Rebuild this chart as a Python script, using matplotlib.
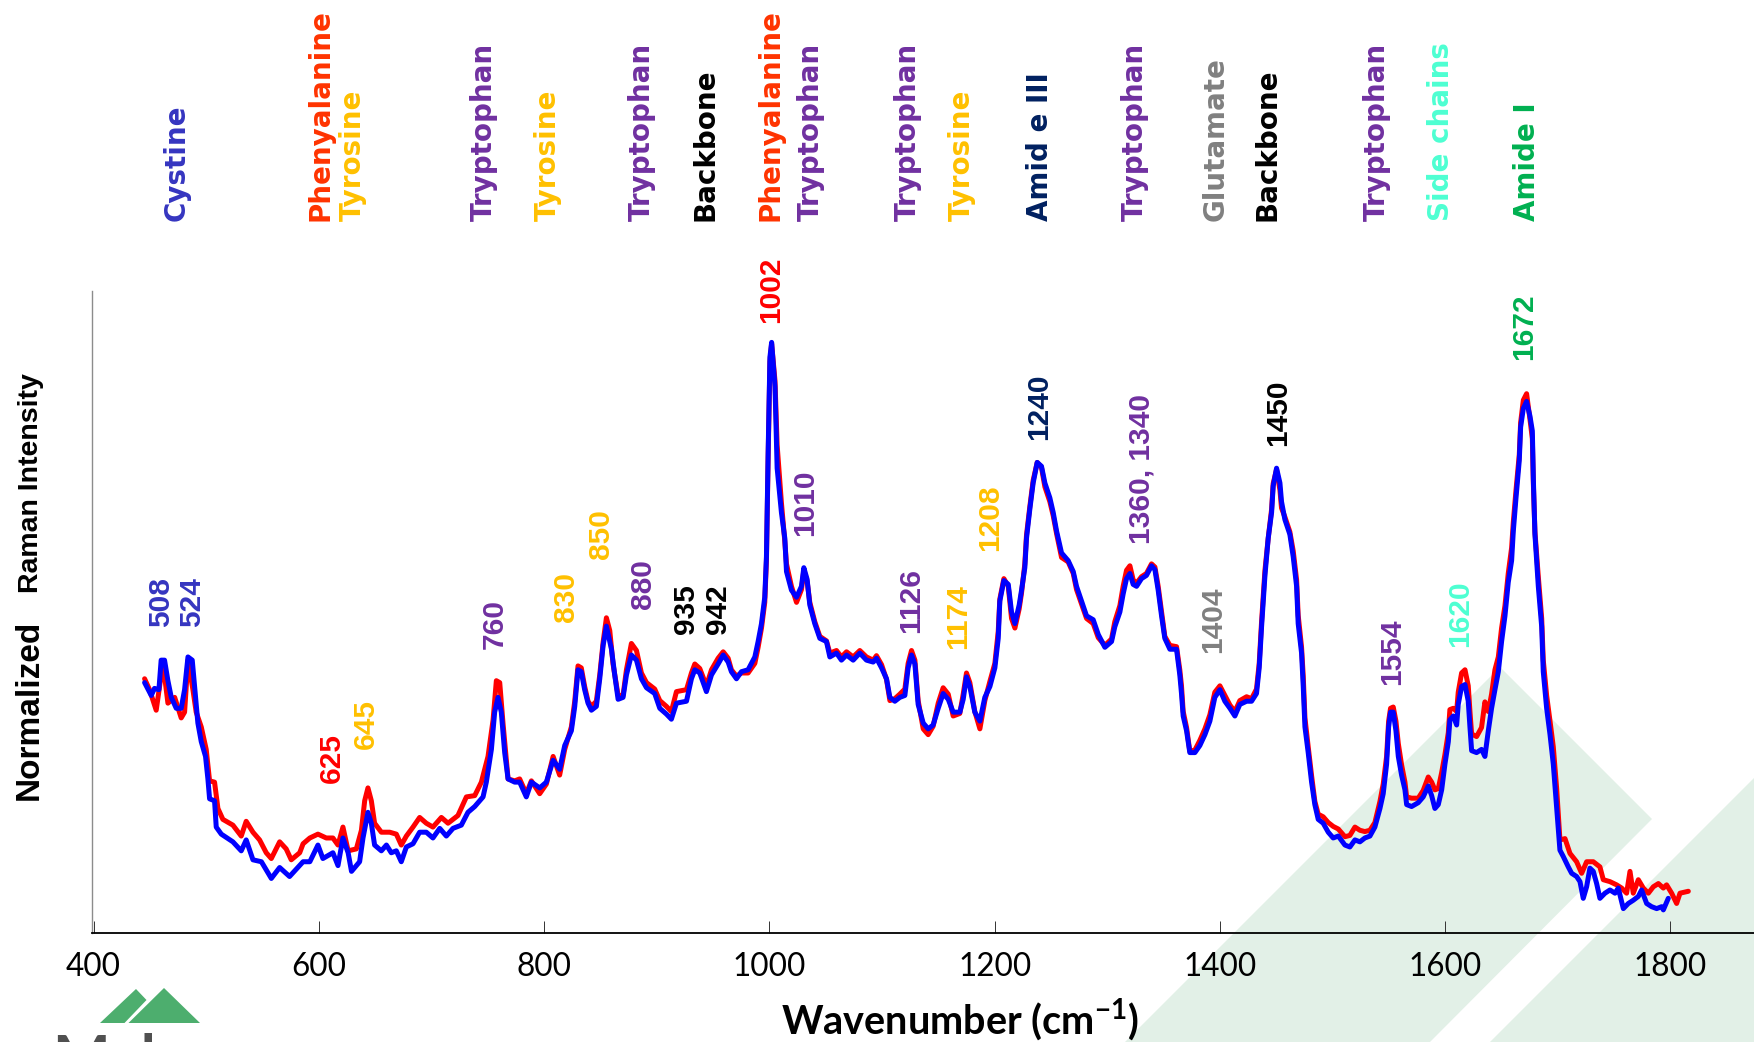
import matplotlib
matplotlib.use("Agg")
import matplotlib.pyplot as plt
from matplotlib.patches import Polygon

# ---------------- data ----------------
blue_wn = [445.3, 451.2, 454.1, 458.0, 460.0, 463.0, 466.0, 469.0, 473.4, 477.8,
           480.8, 483.8, 487.6, 489.7, 492.6, 495.6, 499.4, 501.5, 503.0, 507.4,
           508.9, 513.4, 523.7, 531.1, 535.5, 541.5, 549.0, 557.8, 565.2, 574.0,
           586.0, 592.0, 599.2, 603.6, 612.5, 617.0, 621.4, 626.0, 629.0, 636.2,
           639.2, 643.6, 646.6, 649.5, 655.5, 660.0, 664.3, 668.8, 673.2, 677.7,
           683.6, 689.5, 695.4, 701.3, 707.3, 713.2, 719.1, 726.5, 732.4, 738.4,
           745.8, 748.7, 753.2, 756.1, 759.1, 762.0, 765.0, 768.0, 773.9, 778.3,
           784.2, 788.7, 796.1, 802.0, 808.0, 813.8, 818.3, 824.2, 827.2, 830.1,
           833.0, 836.0, 839.0, 842.0, 846.4, 849.4, 852.4, 855.3, 859.8, 862.7,
           865.7, 870.1, 873.1, 877.5, 882.0, 886.4, 890.9, 898.2, 902.7, 908.6,
           913.0, 917.5, 926.4, 930.8, 933.8, 938.2, 944.1, 948.6, 954.5, 959.0,
           963.4, 966.3, 970.8, 975.2, 981.1, 987.1, 990.0, 993.0, 995.9, 997.4,
           998.9, 1000.5, 1002.0, 1005.0, 1006.9, 1010.7, 1013.7, 1015.2, 1019.6, 1024.1,
           1028.5, 1030.6, 1033.5, 1035.9, 1040.3, 1044.8, 1050.7, 1053.7, 1059.6, 1064.0,
           1068.5, 1074.4, 1080.3, 1086.2, 1092.2, 1095.1, 1099.6, 1104.0, 1107.0, 1111.4,
           1115.8, 1120.3, 1123.2, 1126.2, 1129.2, 1132.1, 1136.6, 1141.0, 1145.4, 1149.9,
           1154.3, 1158.8, 1163.2, 1169.1, 1172.1, 1175.0, 1178.0, 1182.4, 1186.9, 1191.3,
           1195.8, 1200.2, 1203.2, 1204.6, 1208.2, 1212.1, 1215.0, 1218.0, 1221.8, 1223.9,
           1226.8, 1228.3, 1231.3, 1234.2, 1237.8, 1241.6, 1244.6, 1249.0, 1252.0, 1255.0,
           1259.4, 1265.3, 1269.8, 1272.7, 1277.2, 1281.6, 1287.5, 1292.0, 1297.9, 1303.8,
           1306.7, 1311.2, 1314.1, 1317.1, 1320.1, 1323.0, 1326.0, 1330.4, 1334.8, 1339.3,
           1342.3, 1345.2, 1348.2, 1351.1, 1355.6, 1361.5, 1364.4, 1365.9, 1367.4, 1370.4,
           1373.3, 1377.8, 1382.2, 1386.7, 1391.1, 1395.5, 1400.0, 1404.4, 1408.9, 1413.3,
           1417.7, 1423.7, 1428.1, 1432.5, 1434.9, 1437.0, 1440.0, 1442.9, 1445.9, 1447.3,
           1450.3, 1453.3, 1454.7, 1457.7, 1462.1, 1465.1, 1468.1, 1469.5, 1472.5, 1474.0,
           1475.5, 1478.4, 1481.4, 1484.3, 1487.3, 1491.7, 1496.2, 1500.6, 1505.1, 1511.0,
           1515.4, 1519.9, 1524.3, 1528.7, 1533.2, 1537.6, 1542.1, 1545.0, 1548.0, 1549.8,
           1551.5, 1553.9, 1556.3, 1558.4, 1561.3, 1564.3, 1565.8, 1570.2, 1576.1, 1580.5,
           1585.0, 1588.0, 1590.9, 1593.9, 1596.9, 1599.8, 1602.8, 1604.2, 1607.2, 1610.2,
           1611.6, 1614.6, 1617.6, 1620.5, 1622.0, 1623.5, 1627.9, 1632.3, 1635.3, 1638.3,
           1641.2, 1644.2, 1647.2, 1650.1, 1653.1, 1656.0, 1659.0, 1660.5, 1662.9, 1665.8,
           1667.0, 1669.4, 1672.3, 1675.3, 1677.4, 1678.3, 1679.7, 1682.7, 1685.7, 1687.1,
           1690.1, 1693.1, 1696.0, 1699.0, 1701.9, 1704.9, 1709.3, 1712.3, 1716.7, 1719.7,
           1722.6, 1725.6, 1728.5, 1731.5, 1734.5, 1737.4, 1741.9, 1746.3, 1750.8, 1753.7,
           1758.2, 1762.6, 1767.0, 1771.5, 1774.4, 1778.9, 1783.3, 1787.8, 1792.2, 1793.7,
           1798.1]
blue_int = [0.390, 0.370, 0.381, 0.379, 0.425, 0.425, 0.393, 0.367, 0.350, 0.350,
            0.379, 0.430, 0.425, 0.384, 0.327, 0.298, 0.275, 0.240, 0.209, 0.206,
            0.165, 0.154, 0.142, 0.128, 0.145, 0.114, 0.111, 0.085, 0.102, 0.088,
            0.111, 0.111, 0.137, 0.116, 0.125, 0.105, 0.148, 0.125, 0.096, 0.111,
            0.148, 0.188, 0.171, 0.137, 0.128, 0.137, 0.125, 0.128, 0.111, 0.134,
            0.139, 0.157, 0.157, 0.148, 0.163, 0.151, 0.163, 0.168, 0.188, 0.197,
            0.212, 0.235, 0.286, 0.344, 0.367, 0.344, 0.281, 0.240, 0.235, 0.235,
            0.212, 0.235, 0.226, 0.235, 0.269, 0.255, 0.292, 0.315, 0.353, 0.410,
            0.407, 0.379, 0.358, 0.347, 0.353, 0.396, 0.448, 0.478, 0.442, 0.402,
            0.364, 0.367, 0.402, 0.433, 0.425, 0.396, 0.382, 0.373, 0.350, 0.341,
            0.333, 0.358, 0.361, 0.396, 0.410, 0.405, 0.376, 0.402, 0.419, 0.433,
            0.422, 0.407, 0.396, 0.407, 0.410, 0.430, 0.454, 0.482, 0.523, 0.586,
            0.747, 0.897, 0.920, 0.851, 0.724, 0.655, 0.615, 0.563, 0.534, 0.523,
            0.540, 0.569, 0.551, 0.511, 0.482, 0.459, 0.454, 0.430, 0.436, 0.425,
            0.433, 0.425, 0.436, 0.425, 0.422, 0.428, 0.413, 0.396, 0.367, 0.361,
            0.367, 0.370, 0.413, 0.433, 0.419, 0.356, 0.327, 0.318, 0.324, 0.350,
            0.373, 0.364, 0.344, 0.344, 0.364, 0.399, 0.384, 0.344, 0.330, 0.367,
            0.384, 0.413, 0.459, 0.517, 0.549, 0.543, 0.500, 0.482, 0.511, 0.534,
            0.569, 0.615, 0.661, 0.701, 0.733, 0.727, 0.701, 0.678, 0.655, 0.626,
            0.592, 0.580, 0.563, 0.540, 0.517, 0.494, 0.488, 0.465, 0.445, 0.454,
            0.477, 0.500, 0.528, 0.552, 0.560, 0.543, 0.540, 0.552, 0.557, 0.572,
            0.566, 0.534, 0.494, 0.459, 0.442, 0.442, 0.402, 0.373, 0.338, 0.315,
            0.281, 0.281, 0.292, 0.309, 0.330, 0.367, 0.379, 0.361, 0.350, 0.338,
            0.356, 0.361, 0.361, 0.373, 0.413, 0.477, 0.557, 0.615, 0.655, 0.696,
            0.724, 0.701, 0.672, 0.644, 0.621, 0.586, 0.540, 0.482, 0.436, 0.384,
            0.321, 0.281, 0.235, 0.200, 0.177, 0.171, 0.157, 0.148, 0.151, 0.137,
            0.134, 0.145, 0.142, 0.148, 0.151, 0.165, 0.194, 0.217, 0.263, 0.321,
            0.344, 0.344, 0.315, 0.275, 0.246, 0.223, 0.200, 0.197, 0.203, 0.212,
            0.229, 0.214, 0.194, 0.200, 0.223, 0.263, 0.298, 0.332, 0.338, 0.324,
            0.356, 0.384, 0.387, 0.361, 0.321, 0.284, 0.281, 0.286, 0.275, 0.315,
            0.350, 0.379, 0.407, 0.454, 0.494, 0.546, 0.580, 0.626, 0.678, 0.736,
            0.788, 0.817, 0.828, 0.805, 0.782, 0.707, 0.621, 0.540, 0.477, 0.407,
            0.350, 0.309, 0.263, 0.195, 0.129, 0.119, 0.103, 0.093, 0.088, 0.080,
            0.054, 0.072, 0.101, 0.096, 0.077, 0.054, 0.062, 0.067, 0.062, 0.070,
            0.038, 0.046, 0.051, 0.057, 0.067, 0.046, 0.041, 0.038, 0.041, 0.036,
            0.054]

red_wn = [445.3, 449.7, 455.6, 458.6, 461.5, 466.0, 472.0, 477.8, 480.8, 483.8,
          488.2, 491.1, 495.6, 500.0, 503.0, 507.4, 510.4, 514.8, 523.7, 531.1,
          535.5, 541.5, 547.4, 553.3, 557.8, 565.2, 571.0, 575.5, 583.0, 586.0,
          592.0, 599.2, 606.6, 612.5, 617.0, 621.4, 626.0, 633.3, 637.8, 640.7,
          643.6, 646.6, 649.5, 655.5, 662.9, 668.8, 673.2, 677.7, 683.6, 689.5,
          695.4, 701.3, 708.8, 714.7, 723.5, 731.0, 738.4, 744.3, 750.2, 754.7,
          757.6, 760.6, 763.5, 768.0, 773.9, 778.3, 784.2, 788.7, 796.1, 802.0,
          808.0, 813.8, 818.3, 824.2, 827.2, 830.1, 833.0, 836.0, 839.0, 842.0,
          846.4, 849.4, 852.4, 855.3, 858.3, 861.2, 865.7, 870.1, 873.1, 877.5,
          882.0, 886.4, 890.9, 898.2, 902.7, 908.6, 913.0, 917.5, 926.4, 930.8,
          933.8, 938.2, 944.1, 948.6, 954.5, 959.0, 963.4, 966.3, 970.8, 975.2,
          981.1, 987.1, 990.0, 993.0, 995.9, 997.4, 998.9, 1000.5, 1002.0, 1005.0,
          1006.9, 1010.7, 1013.7, 1015.2, 1019.6, 1024.1, 1028.5, 1030.6, 1033.5, 1035.9,
          1040.3, 1044.8, 1050.7, 1053.7, 1059.6, 1064.0, 1068.5, 1074.4, 1080.3, 1086.2,
          1092.2, 1095.1, 1099.6, 1104.0, 1107.0, 1111.4, 1115.8, 1120.3, 1123.2, 1126.2,
          1129.2, 1132.1, 1136.6, 1141.0, 1145.4, 1149.9, 1154.3, 1158.8, 1163.2, 1169.1,
          1172.1, 1175.0, 1178.0, 1182.4, 1186.9, 1191.3, 1195.8, 1200.2, 1203.2, 1204.6,
          1208.2, 1212.1, 1215.0, 1218.0, 1221.8, 1223.9, 1226.8, 1228.3, 1231.3, 1234.2,
          1237.8, 1241.6, 1244.6, 1249.0, 1252.0, 1255.0, 1259.4, 1265.3, 1269.8, 1272.7,
          1277.2, 1281.6, 1287.5, 1292.0, 1297.9, 1303.8, 1306.7, 1311.2, 1314.1, 1317.1,
          1320.1, 1323.0, 1326.0, 1330.4, 1334.8, 1339.3, 1342.3, 1345.2, 1348.2, 1351.1,
          1355.6, 1361.5, 1364.4, 1365.9, 1367.4, 1370.4, 1373.3, 1377.8, 1382.2, 1386.7,
          1391.1, 1395.5, 1400.0, 1404.4, 1408.9, 1413.3, 1417.7, 1423.7, 1428.1, 1432.5,
          1434.9, 1437.0, 1440.0, 1442.9, 1445.9, 1447.3, 1450.3, 1453.3, 1454.7, 1457.7,
          1462.1, 1465.1, 1468.1, 1469.5, 1472.5, 1474.0, 1475.5, 1478.4, 1481.4, 1484.3,
          1487.3, 1491.7, 1496.2, 1500.6, 1505.1, 1511.0, 1515.4, 1519.9, 1524.3, 1528.7,
          1533.2, 1537.6, 1542.1, 1545.0, 1548.0, 1549.8, 1551.5, 1553.9, 1556.3, 1558.4,
          1561.3, 1564.3, 1565.8, 1570.2, 1576.1, 1580.5, 1585.0, 1588.0, 1590.9, 1593.9,
          1596.9, 1599.8, 1602.8, 1604.2, 1607.2, 1610.2, 1611.6, 1614.6, 1617.6, 1620.5,
          1622.0, 1623.5, 1627.9, 1632.3, 1635.3, 1638.3, 1641.2, 1644.2, 1647.2, 1650.1,
          1653.1, 1656.0, 1659.0, 1660.5, 1662.9, 1665.8, 1667.0, 1669.4, 1672.3, 1675.3,
          1677.4, 1678.3, 1679.7, 1682.7, 1685.7, 1687.1, 1690.1, 1693.1, 1696.0, 1699.0,
          1701.9, 1706.4, 1710.8, 1716.7, 1721.2, 1725.6, 1731.5, 1737.4, 1740.4, 1746.3,
          1752.2, 1756.7, 1761.1, 1764.1, 1767.0, 1771.5, 1775.9, 1780.4, 1784.8, 1789.3,
          1793.7, 1796.6, 1801.1, 1805.5, 1808.5, 1815.9]
red_int = [0.396, 0.379, 0.347, 0.384, 0.422, 0.358, 0.367, 0.335, 0.344, 0.425,
           0.379, 0.344, 0.321, 0.286, 0.237, 0.235, 0.194, 0.177, 0.168, 0.151,
           0.174, 0.157, 0.145, 0.125, 0.116, 0.142, 0.131, 0.114, 0.125, 0.139,
           0.148, 0.154, 0.148, 0.148, 0.137, 0.165, 0.128, 0.131, 0.160, 0.206,
           0.226, 0.206, 0.171, 0.157, 0.157, 0.154, 0.137, 0.151, 0.165, 0.180,
           0.171, 0.165, 0.180, 0.171, 0.183, 0.212, 0.214, 0.235, 0.275, 0.332,
           0.393, 0.390, 0.327, 0.240, 0.237, 0.240, 0.217, 0.237, 0.217, 0.232,
           0.275, 0.246, 0.286, 0.321, 0.361, 0.416, 0.413, 0.384, 0.361, 0.353,
           0.361, 0.402, 0.453, 0.491, 0.471, 0.419, 0.370, 0.370, 0.410, 0.451,
           0.440, 0.405, 0.390, 0.380, 0.362, 0.353, 0.345, 0.376, 0.379, 0.405,
           0.419, 0.412, 0.385, 0.410, 0.428, 0.438, 0.428, 0.410, 0.400, 0.405,
           0.405, 0.420, 0.445, 0.475, 0.515, 0.580, 0.740, 0.890, 0.918, 0.860,
           0.760, 0.670, 0.610, 0.575, 0.540, 0.515, 0.535, 0.565, 0.548, 0.515,
           0.485, 0.462, 0.455, 0.436, 0.440, 0.430, 0.438, 0.430, 0.440, 0.430,
           0.425, 0.432, 0.418, 0.395, 0.362, 0.365, 0.372, 0.380, 0.420, 0.440,
           0.425, 0.362, 0.318, 0.309, 0.322, 0.358, 0.382, 0.372, 0.338, 0.342,
           0.372, 0.405, 0.390, 0.345, 0.318, 0.362, 0.392, 0.420, 0.470, 0.520,
           0.552, 0.540, 0.490, 0.475, 0.505, 0.530, 0.575, 0.620, 0.665, 0.705,
           0.733, 0.725, 0.695, 0.672, 0.650, 0.622, 0.585, 0.578, 0.560, 0.535,
           0.512, 0.490, 0.482, 0.460, 0.448, 0.458, 0.485, 0.510, 0.540, 0.565,
           0.572, 0.550, 0.545, 0.555, 0.560, 0.575, 0.570, 0.540, 0.500, 0.462,
           0.448, 0.446, 0.410, 0.385, 0.345, 0.320, 0.283, 0.285, 0.300, 0.318,
           0.340, 0.375, 0.385, 0.370, 0.355, 0.345, 0.362, 0.368, 0.365, 0.380,
           0.420, 0.485, 0.565, 0.615, 0.660, 0.700, 0.722, 0.690, 0.662, 0.648,
           0.625, 0.595, 0.550, 0.495, 0.445, 0.400, 0.335, 0.290, 0.245, 0.205,
           0.185, 0.181, 0.172, 0.166, 0.162, 0.150, 0.152, 0.165, 0.160, 0.158,
           0.160, 0.172, 0.205, 0.232, 0.275, 0.330, 0.350, 0.352, 0.330, 0.295,
           0.262, 0.235, 0.212, 0.210, 0.210, 0.222, 0.243, 0.235, 0.223, 0.225,
           0.250, 0.278, 0.312, 0.348, 0.350, 0.345, 0.375, 0.405, 0.410, 0.385,
           0.345, 0.310, 0.306, 0.320, 0.360, 0.345, 0.372, 0.410, 0.430, 0.475,
           0.510, 0.560, 0.600, 0.640, 0.690, 0.745, 0.795, 0.830, 0.840, 0.800,
           0.770, 0.700, 0.625, 0.555, 0.490, 0.425, 0.370, 0.330, 0.290, 0.225,
           0.145, 0.147, 0.124, 0.111, 0.093, 0.111, 0.111, 0.103, 0.083, 0.080,
           0.075, 0.070, 0.062, 0.096, 0.062, 0.083, 0.070, 0.062, 0.072, 0.077,
           0.070, 0.075, 0.062, 0.046, 0.062, 0.065]

x_ticks = [400, 600, 800, 1000, 1200, 1400, 1600, 1800]

# band assignments above the plot: (text, wavenumber position, colour)
band_names = ["Cystine", "Phenyalanine", "Tyrosine", "Tryptophan", "Tyrosine",
              "Tryptophan", "Backbone", "Phenyalanine", "Tryptophan", "Tryptophan",
              "Tyrosine", "Amid e III", "Tryptophan", "Glutamate", "Backbone",
              "Tryptophan", "Side chains", "Amide I"]
band_pos = [473.7, 601.6, 630.0, 746.4, 803.2, 886.7, 943.5, 1001.2, 1036.8, 1122.9,
            1170.9, 1240.1, 1324.5, 1396.4, 1442.6, 1539.4, 1596.3, 1672.6]
band_colors = ["#3535c0", "#ff3300", "#ffc000", "#7030a0", "#ffc000",
               "#7030a0", "#000000", "#ff3300", "#7030a0", "#7030a0",
               "#ffc000", "#002060", "#7030a0", "#808080", "#000000",
               "#7030a0", "#4dffd2", "#00b050"]

# peak labels: (text, wavenumber position, height of label start, colour)
peak_text = ["508", "524", "625", "645", "760", "830", "850", "880", "935", "942",
             "1002", "1010", "1126", "1174", "1208", "1240", "1360, 1340", "1404",
             "1450", "1554", "1620", "1672"]
peak_pos = [460.1, 487.7, 612.0, 642.2, 756.1, 819.8, 850.3, 887.8, 926.4, 954.4,
            1001.2, 1031.4, 1126.2, 1167.6, 1195.7, 1239.5, 1330.5, 1394.1,
            1451.8, 1552.5, 1613.1, 1670.0]
peak_y = [0.477, 0.477, 0.234, 0.287, 0.442, 0.485, 0.583, 0.505, 0.465, 0.465,
          0.950, 0.618, 0.468, 0.442, 0.595, 0.768, 0.606, 0.436,
          0.759, 0.387, 0.445, 0.893]
peak_colors = ["#3535c0", "#3535c0", "#ff0000", "#ffc000", "#7030a0", "#ffc000",
               "#ffc000", "#7030a0", "#000000", "#000000", "#ff0000", "#7030a0",
               "#7030a0", "#ffc000", "#ffc000", "#002060", "#7030a0", "#808080",
               "#000000", "#7030a0", "#4dffd2", "#00b050"]

# ---------------- figure ----------------
W, H = 1754, 1042
fig = plt.figure(figsize=(W / 100, H / 100), dpi=100)

# pixel-space layer for the background decoration, logo and axis titles
bg = fig.add_axes([0, 0, 1, 1], zorder=0)
bg.set_xlim(0, W)
bg.set_ylim(H, 0)
bg.axis("off")

shade = "#e2f0e7"
bg.add_patch(Polygon([(1125, H), (1500, 667), (1652, 819), (1430, H)],
                     closed=True, facecolor=shade, edgecolor="none"))
bg.add_patch(Polygon([(1490, H), (W, 778), (W, H)],
                     closed=True, facecolor=shade, edgecolor="none"))

logo_green = "#4dae6e"
bg.add_patch(Polygon([(100, 1023), (136, 989), (146.5, 1000), (124.5, 1023)],
                     closed=True, facecolor=logo_green, edgecolor="none"))
bg.add_patch(Polygon([(128.5, 1023), (164, 988), (200, 1023)],
                     closed=True, facecolor=logo_green, edgecolor="none"))
bg.text(52, 1033, "Malvern", ha="left", va="top", fontsize=44,
        color="#505050", family=["Lato", "DejaVu Sans"], fontweight="bold")

# axis titles
bg.text(38, 800, "Normalized", rotation=90, rotation_mode="anchor",
        ha="left", va="baseline", fontsize=24, fontweight="bold",
        family=["Liberation Sans", "DejaVu Sans"], color="black")
bg.text(38, 593, "Raman Intensity", rotation=90, rotation_mode="anchor",
        ha="left", va="baseline", fontsize=20.5, fontweight="bold",
        family=["Liberation Sans", "DejaVu Sans"], color="black")

plt.rcParams["mathtext.fontset"] = "custom"
plt.rcParams["mathtext.rm"] = "Lato"
plt.rcParams["mathtext.bf"] = "Lato:bold"
bg.text(960, 1034, r"Wavenumber (cm$^{\mathbf{-1}}$)", ha="center", va="baseline",
        fontsize=28.5, fontweight="bold", family=["Lato", "DejaVu Sans"])

# main spectrum axes
x0, x1 = 92, W
y_top, y_bot = 291, 933
ax = fig.add_axes([x0 / W, (H - y_bot) / H, (x1 - x0) / W, (y_bot - y_top) / H],
                  zorder=1)
ax.patch.set_alpha(0)
ax.set_xlim(398.6, 1874.2)
ax.set_ylim(0, 1)

ax.plot(red_wn, red_int, color="#ff0000", lw=3.6, solid_joinstyle="round",
        solid_capstyle="round", zorder=2)
ax.plot(blue_wn, blue_int, color="#0000ff", lw=3.6, solid_joinstyle="round",
        solid_capstyle="round", zorder=3)

for side in ("top", "right"):
    ax.spines[side].set_visible(False)
ax.spines["left"].set_color("#8c8c8c")
ax.spines["left"].set_linewidth(1.0)
ax.spines["bottom"].set_color("black")
ax.spines["bottom"].set_linewidth(1.3)

ax.set_xticks(x_ticks)
ax.set_xticklabels([str(t) for t in x_ticks], family=["Lato", "DejaVu Sans"],
                   fontsize=22.7)
ax.tick_params(axis="x", direction="in", length=9, width=0.7, color="#333333",
               pad=14)
ax.set_yticks([])

name_y = (y_bot - 221) / (y_bot - y_top)
for txt, pos, col in zip(band_names, band_pos, band_colors):
    ax.text(pos, name_y, txt, rotation=90, ha="center", va="bottom",
            fontsize=20, fontweight="bold", color=col, family="DejaVu Sans",
            clip_on=False)

for txt, pos, yy, col in zip(peak_text, peak_pos, peak_y, peak_colors):
    ax.text(pos, yy, txt, rotation=90, ha="center", va="bottom",
            fontsize=21.5, fontweight="bold", color=col,
            family=["Liberation Sans", "DejaVu Sans"], clip_on=False)

fig.savefig("out.png", dpi=100)
